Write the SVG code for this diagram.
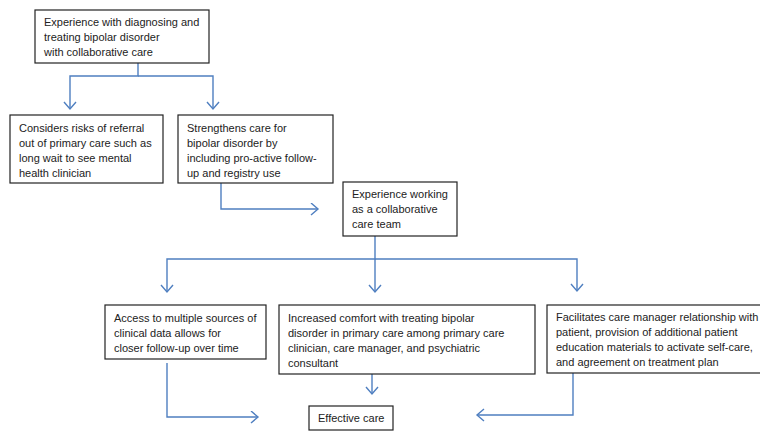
<svg xmlns="http://www.w3.org/2000/svg" width="760" height="433" viewBox="0 0 760 433">
<defs>
<style>
.box{fill:#fff;stroke:#222;stroke-width:1.2}
.t{font-family:"Liberation Sans",Arial,sans-serif;font-size:11px;fill:#222}
.c{fill:none;stroke:#4f7fc0;stroke-width:1.4}
</style>
<marker id="ah" markerUnits="userSpaceOnUse" markerWidth="12" markerHeight="14" refX="8" refY="6.5" orient="auto">
<path d="M1,0.5 L8,6.5 L1,12.5" fill="none" stroke="#4f7fc0" stroke-width="1.4"/>
</marker>
</defs>
<rect width="760" height="433" fill="#fff"/>
<g id="connectors">
<path class="c" d="M138,63 V76 H70 V109" marker-end="url(#ah)"/>
<path class="c" d="M138,76 H213 V109" marker-end="url(#ah)"/>
<path class="c" d="M221,183 V209 H318" marker-end="url(#ah)"/>
<path class="c" d="M375,236 V259 H167 V292" marker-end="url(#ah)"/>
<path class="c" d="M375,259 V292" marker-end="url(#ah)"/>
<path class="c" d="M375,259 H577 V291" marker-end="url(#ah)"/>
<path class="c" d="M372,374 V394" marker-end="url(#ah)"/>
<path class="c" d="M167,363 V417 H258" marker-end="url(#ah)"/>
<path class="c" d="M573,373 V415 H477" marker-end="url(#ah)"/>
</g>
<g id="n1">
<rect class="box" x="35" y="10" width="174" height="53"/>
<text class="t" x="44" y="26">Experience with diagnosing and</text>
<text class="t" x="44" y="41">treating bipolar disorder</text>
<text class="t" x="44" y="56">with collaborative care</text>
</g>
<g id="n2">
<rect class="box" x="10" y="115" width="153" height="68"/>
<text class="t" x="19" y="132">Considers risks of referral</text>
<text class="t" x="19" y="147">out of primary care such as</text>
<text class="t" x="19" y="162">long wait to see mental</text>
<text class="t" x="19" y="177">health clinician</text>
</g>
<g id="n3">
<rect class="box" x="178" y="115" width="155" height="68"/>
<text class="t" x="187" y="132">Strengthens care for</text>
<text class="t" x="187" y="147">bipolar disorder by</text>
<text class="t" x="187" y="162">including pro-active follow-</text>
<text class="t" x="187" y="177">up and registry use</text>
</g>
<g id="n4">
<rect class="box" x="343" y="182" width="114" height="54"/>
<text class="t" x="352" y="198">Experience working</text>
<text class="t" x="352" y="213">as a collaborative</text>
<text class="t" x="352" y="228">care team</text>
</g>
<g id="n5">
<rect class="box" x="105" y="305" width="161" height="54"/>
<text class="t" x="114" y="322">Access to multiple sources of</text>
<text class="t" x="114" y="337">clinical data allows for</text>
<text class="t" x="114" y="352">closer follow-up over time</text>
</g>
<g id="n6">
<rect class="box" x="279" y="305" width="256" height="69"/>
<text class="t" x="288" y="322">Increased comfort with treating bipolar</text>
<text class="t" x="288" y="337">disorder in primary care among primary care</text>
<text class="t" x="288" y="352">clinician, care manager, and psychiatric</text>
<text class="t" x="288" y="367">consultant</text>
</g>
<g id="n7">
<rect class="box" x="547" y="305" width="220" height="68"/>
<text class="t" x="556" y="321">Facilitates care manager relationship with</text>
<text class="t" x="556" y="336">patient, provision of additional patient</text>
<text class="t" x="556" y="351">education materials to activate self-care,</text>
<text class="t" x="556" y="366">and agreement on treatment plan</text>
</g>
<g id="n8">
<rect class="box" x="309" y="406" width="84" height="24"/>
<text class="t" x="318" y="422">Effective care</text>
</g>
</svg>
